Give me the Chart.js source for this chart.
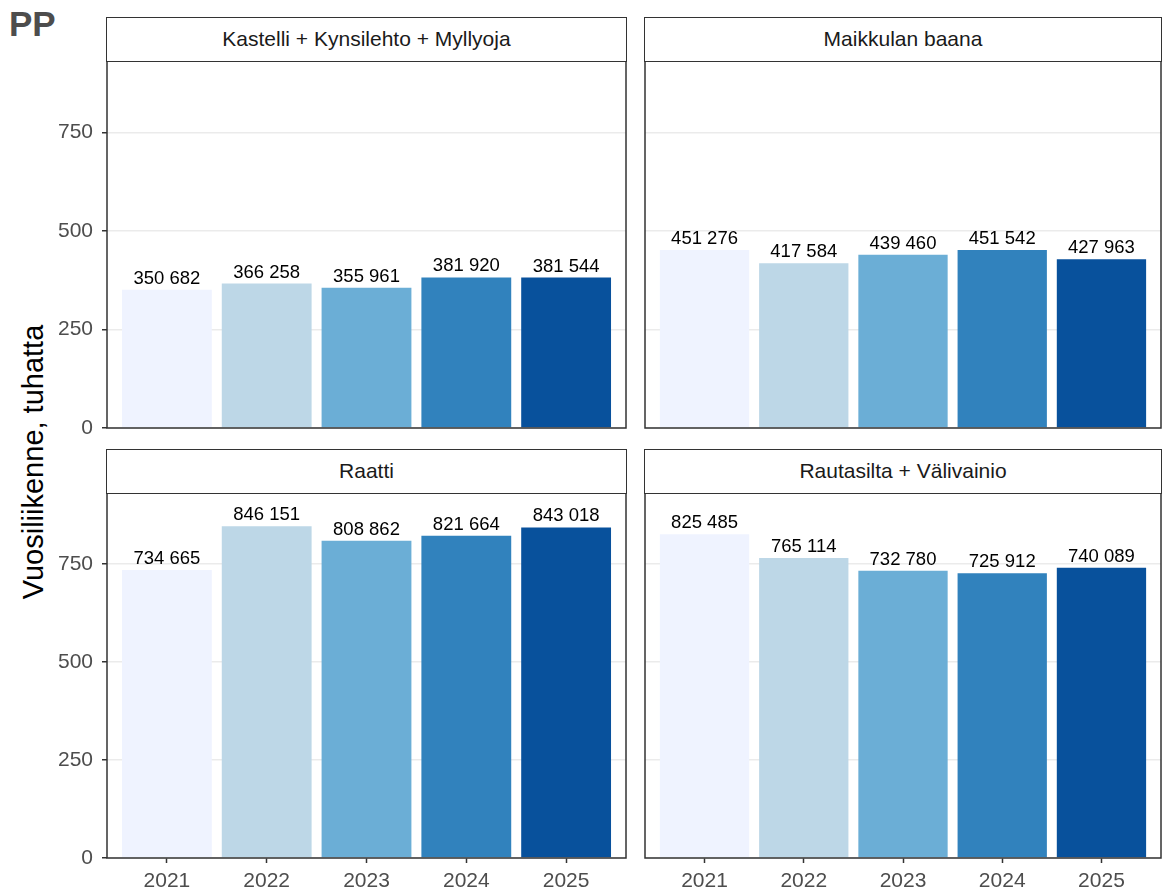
<!DOCTYPE html>
<html>
<head>
<meta charset="utf-8">
<script src="https://cdn.jsdelivr.net/npm/chart.js@4"></script>
<style>
  body { margin: 0; background: #fff; font-family: "Liberation Sans", Arial, sans-serif; }
  #wrap { position: relative; width: 1163px; height: 891px; overflow: hidden; background: #fff; }
  .panel { position: absolute; }
  .strip { position: absolute; box-sizing: border-box; border: 1.5px solid #333; background: #fff;
           font-size: 21px; color: #1a1a1a; display: flex; align-items: center; justify-content: center; }
  #title { position: absolute; left: 9px; top: 6px; font-size: 35px; font-weight: bold; color: #4d4d4d; line-height: 1; }
  #ytitle { position: absolute; left: 33px; top: 462px; font-size: 29px; color: #000; white-space: nowrap;
            transform: translate(-50%, -50%) rotate(-90deg); }
</style>
</head>
<body>
<div id="wrap">
  <div id="title">PP</div>
  <div id="ytitle">Vuosiliikenne, tuhatta</div>
</div>
<script>
// arvot suoraan kuvasta
const years = ['2021', '2022', '2023', '2024', '2025'];
const areas = ['Kastelli + Kynsilehto + Myllyoja', 'Maikkulan baana', 'Raatti', 'Rautasilta + Välivainio'];
const kastelli = [350682, 366258, 355961, 381920, 381544];
const maikkula = [451276, 417584, 439460, 451542, 427963];
const raatti = [734665, 846151, 808862, 821664, 843018];
const rautasilta = [825485, 765114, 732780, 725912, 740089];
const yTicks = [0, 250, 500, 750];
const barColors = ['#EFF3FF', '#BDD7E7', '#6BAED6', '#3182BD', '#08519C'];

const series = [kastelli, maikkula, raatti, rautasilta];
const yMax = Math.max(...raatti) / 1000 * 1.1;

// paneelien paikat (px)
const cols = [[107, 626], [645, 1161]];
const rows = [{ strip: 17, top: 61, bottom: 428 }, { strip: 449, top: 493, bottom: 858 }];

const fmt = v => String(v).replace(/\B(?=(\d{3})+(?!\d))/g, ' ');

const panelBorder = {
  id: 'panelBorder',
  afterDatasetsDraw(chart) {
    const a = chart.chartArea, ctx = chart.ctx;
    ctx.save();
    ctx.strokeStyle = '#333333';
    ctx.lineWidth = 1.5;
    ctx.strokeRect(a.left, a.top, a.right - a.left, a.bottom - a.top);
    ctx.restore();
  }
};

const barLabels = {
  id: 'barLabels',
  afterDraw(chart) {
    const ctx = chart.ctx;
    const raw = chart.data.datasets[0].rawValues;
    ctx.save();
    ctx.font = '18.5px "Liberation Sans", Arial, sans-serif';
    ctx.fillStyle = '#000';
    ctx.textAlign = 'center';
    ctx.textBaseline = 'alphabetic';
    chart.getDatasetMeta(0).data.forEach((bar, i) => {
      ctx.fillText(fmt(raw[i]), bar.x, bar.y - 6);
    });
    ctx.restore();
  }
};

const wrap = document.getElementById('wrap');

series.forEach((vals, p) => {
  const col = p % 2, row = Math.floor(p / 2);
  const [pl, pr] = cols[col];
  const r = rows[row];
  const isLeft = col === 0, isBottom = row === 1;

  const padTop = 26, padRight = 2;
  const padBottom = isBottom ? 0 : 28;
  const padLeft = isLeft ? 0 : 4;
  const yAxisW = isLeft ? pl : 0;
  const xAxisH = 33;

  const cLeft = isLeft ? 0 : pl - padLeft;
  const cTop = r.top - padTop;
  const cW = pr + padRight - cLeft;
  const cH = isBottom ? (r.bottom + xAxisH - cTop) : (r.bottom + padBottom - cTop);

  const div = document.createElement('div');
  div.className = 'panel';
  div.style.left = cLeft + 'px';
  div.style.top = cTop + 'px';
  div.style.width = cW + 'px';
  div.style.height = cH + 'px';
  const canvas = document.createElement('canvas');
  div.appendChild(canvas);
  wrap.appendChild(div);

  const strip = document.createElement('div');
  strip.className = 'strip';
  strip.style.left = (pl - 0.75) + 'px';
  strip.style.top = r.strip + 'px';
  strip.style.width = (pr - pl + 1.5) + 'px';
  strip.style.height = (r.top - r.strip + 0.75) + 'px';
  strip.textContent = areas[p];
  wrap.appendChild(strip);

  new Chart(canvas, {
    type: 'bar',
    data: {
      datasets: [{
        data: vals.map((v, i) => ({ x: i + 1, y: v / 1000 })),
        rawValues: vals,
        backgroundColor: barColors,
        borderWidth: 0,
        categoryPercentage: 1,
        barPercentage: 0.9
      }]
    },
    options: {
      responsive: true,
      maintainAspectRatio: false,
      animation: false,
      layout: { padding: { top: padTop, right: padRight, bottom: padBottom, left: padLeft } },
      plugins: { legend: { display: false }, tooltip: { enabled: false } },
      scales: {
        x: {
          type: 'linear',
          display: isBottom,
          min: 0.4,
          max: 5.6,
          offset: false,
          afterBuildTicks: s => { s.ticks = years.map((y, i) => ({ value: i + 1 })); },
          afterFit: s => { if (isBottom) s.height = xAxisH; },
          grid: { offset: false, drawOnChartArea: false, drawTicks: true, tickLength: 5, tickColor: '#333333', tickWidth: 1.5 },
          border: { display: false },
          ticks: {
            autoSkip: false, maxRotation: 0, padding: 6,
            color: '#4d4d4d',
            font: { family: '"Liberation Sans", Arial, sans-serif', size: 21 },
            callback: v => years[Math.round(v) - 1]
          }
        },
        y: {
          min: 0,
          max: yMax,
          afterBuildTicks: s => { s.ticks = yTicks.map(v => ({ value: v })); },
          afterFit: s => { s.width = yAxisW; },
          grid: { color: '#EBEBEB', lineWidth: 1.5, drawTicks: isLeft, tickLength: 5, tickColor: '#333333', tickWidth: 1.5 },
          border: { display: false },
          ticks: {
            display: isLeft, padding: 9,
            color: '#4d4d4d',
            font: { family: '"Liberation Sans", Arial, sans-serif', size: 21 }
          }
        }
      }
    },
    plugins: [panelBorder, barLabels]
  });
});
</script>
</body>
</html>
